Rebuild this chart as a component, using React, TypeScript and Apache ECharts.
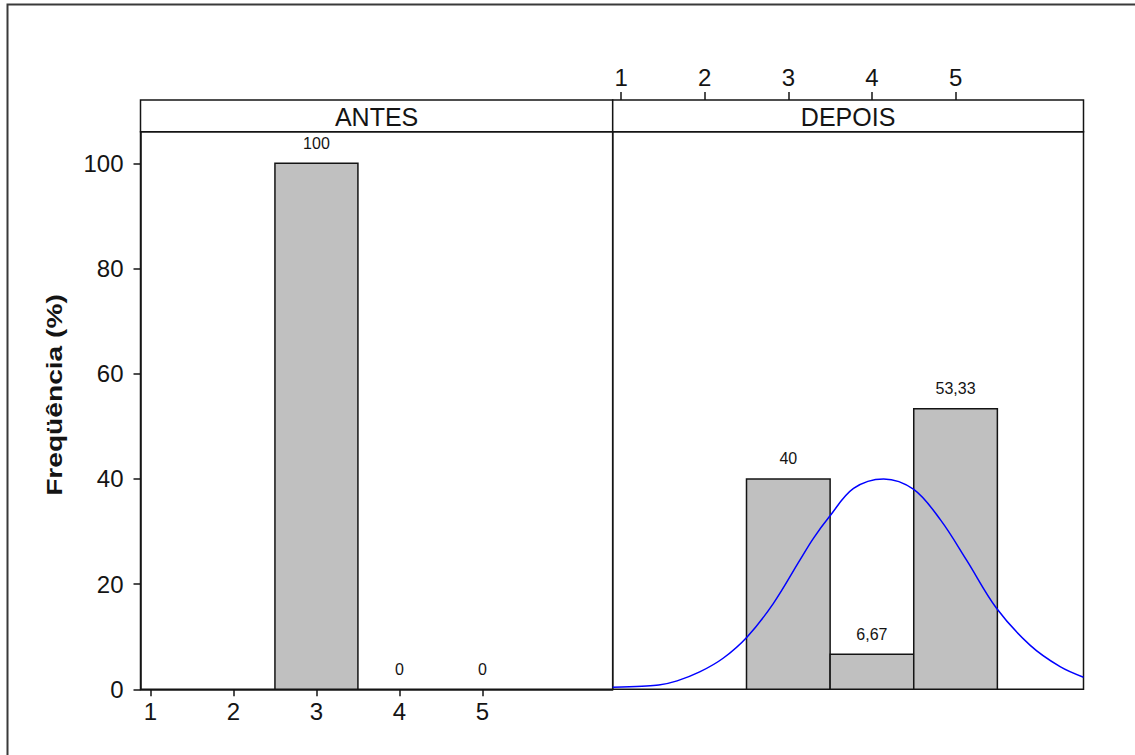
import React, { useEffect, useRef } from "react";
import * as echarts from "echarts";

const binCenters = [3, 4, 5];
const antesValues = [100, 0, 0];
const depoisValues = [40, 6.67, 53.33];
const xTickValues = [1, 2, 3, 4, 5];
const yTickValues = [0, 20, 40, 60, 80, 100];
const curveX = [0.9, 1.25, 1.45, 1.67, 1.94, 2.22, 2.51, 2.82, 3.14, 3.3, 3.49, 3.78, 4.14, 4.5, 4.82, 5.13, 5.49, 5.89, 6.25, 6.53];
const curveY = [0.4, 0.6, 0.8, 1.6, 3.3, 5.9, 10.0, 16.3, 24.6, 28.7, 32.8, 38.2, 40.0, 38.0, 32.2, 24.6, 15.4, 8.4, 4.3, 2.3];
const panelNames = ["ANTES", "DEPOIS"];
const yAxisTitle = "Freqüência (%)";

const FONT = '"Liberation Sans", Arial, sans-serif';
const INK = "#141414";

const fmt = (v: number) => String(v).replace(".", ",");

const L0 = 140.5, L1 = 612.7, R1 = 1083.5;
const TOP = 131.7, BOTTOM = 689.3, STRIP_TOP = 100;

function barRender(params: any, api: any) {
  const x = api.value(0);
  const y = api.value(1);
  const p0 = api.coord([x - 0.5, y]);
  const p1 = api.coord([x + 0.5, 0]);
  const children: any[] = [];
  if (y > 0) {
    children.push({
      type: "rect",
      shape: { x: p0[0], y: p0[1], width: p1[0] - p0[0], height: p1[1] - p0[1] },
      style: { fill: "#c0c0c0", stroke: INK, lineWidth: 1.5 },
    });
  }
  const pc = api.coord([x, y]);
  children.push({
    type: "text",
    style: {
      text: fmt(y),
      x: pc[0],
      y: pc[1] - 20,
      align: "center",
      verticalAlign: "middle",
      fontSize: 16,
      fontFamily: FONT,
      fill: INK,
    },
  });
  return { type: "group", children };
}

export default function App() {
  const ref = useRef<HTMLDivElement>(null);
  useEffect(() => {
    if (!ref.current) return;
    const chart = echarts.init(ref.current, undefined, { renderer: "svg" });
    const axisLabelBase = { fontSize: 24, fontFamily: FONT, color: INK };
    chart.setOption({
      animation: false,
      backgroundColor: "#ffffff",
      grid: [
        { left: L0, top: TOP, width: L1 - L0, height: BOTTOM - TOP, show: true, borderColor: INK, borderWidth: 1.5, backgroundColor: "transparent" },
        { left: L1, top: TOP, width: R1 - L1, height: BOTTOM - TOP, show: true, borderColor: INK, borderWidth: 1.5, backgroundColor: "transparent" },
      ],
      xAxis: [
        {
          gridIndex: 0, type: "value", min: 0.88, max: 6.57, position: "bottom",
          axisLine: { show: true, onZero: false, lineStyle: { color: INK, width: 1.5 } },
          axisTick: { show: true, customValues: xTickValues, length: 7, lineStyle: { color: INK, width: 1.5 } },
          axisLabel: { ...axisLabelBase, customValues: xTickValues, margin: 10 },
          splitLine: { show: false },
        },
        {
          gridIndex: 1, type: "value", min: 0.9, max: 6.53, position: "top", offset: TOP - STRIP_TOP,
          axisLine: { show: false, onZero: false },
          axisTick: { show: true, customValues: xTickValues, length: 8, lineStyle: { color: INK, width: 1.5 } },
          axisLabel: { ...axisLabelBase, customValues: xTickValues, margin: 11 },
          splitLine: { show: false },
        },
      ],
      yAxis: [
        {
          gridIndex: 0, type: "value", min: 0, max: 106,
          axisLine: { show: true, lineStyle: { color: INK, width: 1.5 } },
          axisTick: { show: true, customValues: yTickValues, length: 7, lineStyle: { color: INK, width: 1.5 } },
          axisLabel: { ...axisLabelBase, customValues: yTickValues, margin: 17 },
          splitLine: { show: false },
        },
        {
          gridIndex: 1, type: "value", min: 0, max: 106,
          axisLine: { show: false }, axisTick: { show: false }, axisLabel: { show: false }, splitLine: { show: false },
        },
      ],
      series: [
        {
          type: "custom", xAxisIndex: 0, yAxisIndex: 0, renderItem: barRender,
          data: binCenters.map((c, i) => [c, antesValues[i]]),
        },
        {
          type: "custom", xAxisIndex: 1, yAxisIndex: 1, renderItem: barRender,
          data: binCenters.map((c, i) => [c, depoisValues[i]]),
        },
        {
          type: "line", xAxisIndex: 1, yAxisIndex: 1, smooth: 0.35, showSymbol: false, symbol: "none",
          lineStyle: { color: "#0000ff", width: 1.5 }, z: 5,
          data: curveX.map((x, i) => [x, curveY[i]]),
        },
      ],
      graphic: [
        { type: "polyline", z: -10, shape: { points: [[7.5, 800], [7.5, 4.5], [1200, 4.5]] }, style: { fill: "none", stroke: "#3a3a3a", lineWidth: 2 } },
        { type: "rect", shape: { x: L0, y: STRIP_TOP, width: L1 - L0, height: TOP - STRIP_TOP }, style: { fill: "#fff", stroke: INK, lineWidth: 1.5 } },
        { type: "rect", shape: { x: L1, y: STRIP_TOP, width: R1 - L1, height: TOP - STRIP_TOP }, style: { fill: "#fff", stroke: INK, lineWidth: 1.5 } },
        { type: "text", x: (L0 + L1) / 2, y: (STRIP_TOP + TOP) / 2 + 1, style: { text: panelNames[0], align: "center", verticalAlign: "middle", fontSize: 25, fontFamily: FONT, fill: INK } },
        { type: "text", x: (L1 + R1) / 2, y: (STRIP_TOP + TOP) / 2 + 1, style: { text: panelNames[1], align: "center", verticalAlign: "middle", fontSize: 25, fontFamily: FONT, fill: INK } },
        { type: "text", x: 54, y: 395, rotation: Math.PI / 2, scaleX: 1.28, style: { text: yAxisTitle, align: "center", verticalAlign: "middle", fontSize: 22, fontWeight: "bold", fontFamily: FONT, fill: INK } },
      ],
    });
    return () => chart.dispose();
  }, []);
  return <div ref={ref} style={{ position: "fixed", left: 0, top: 0, width: 1135, height: 755 }} />;
}
